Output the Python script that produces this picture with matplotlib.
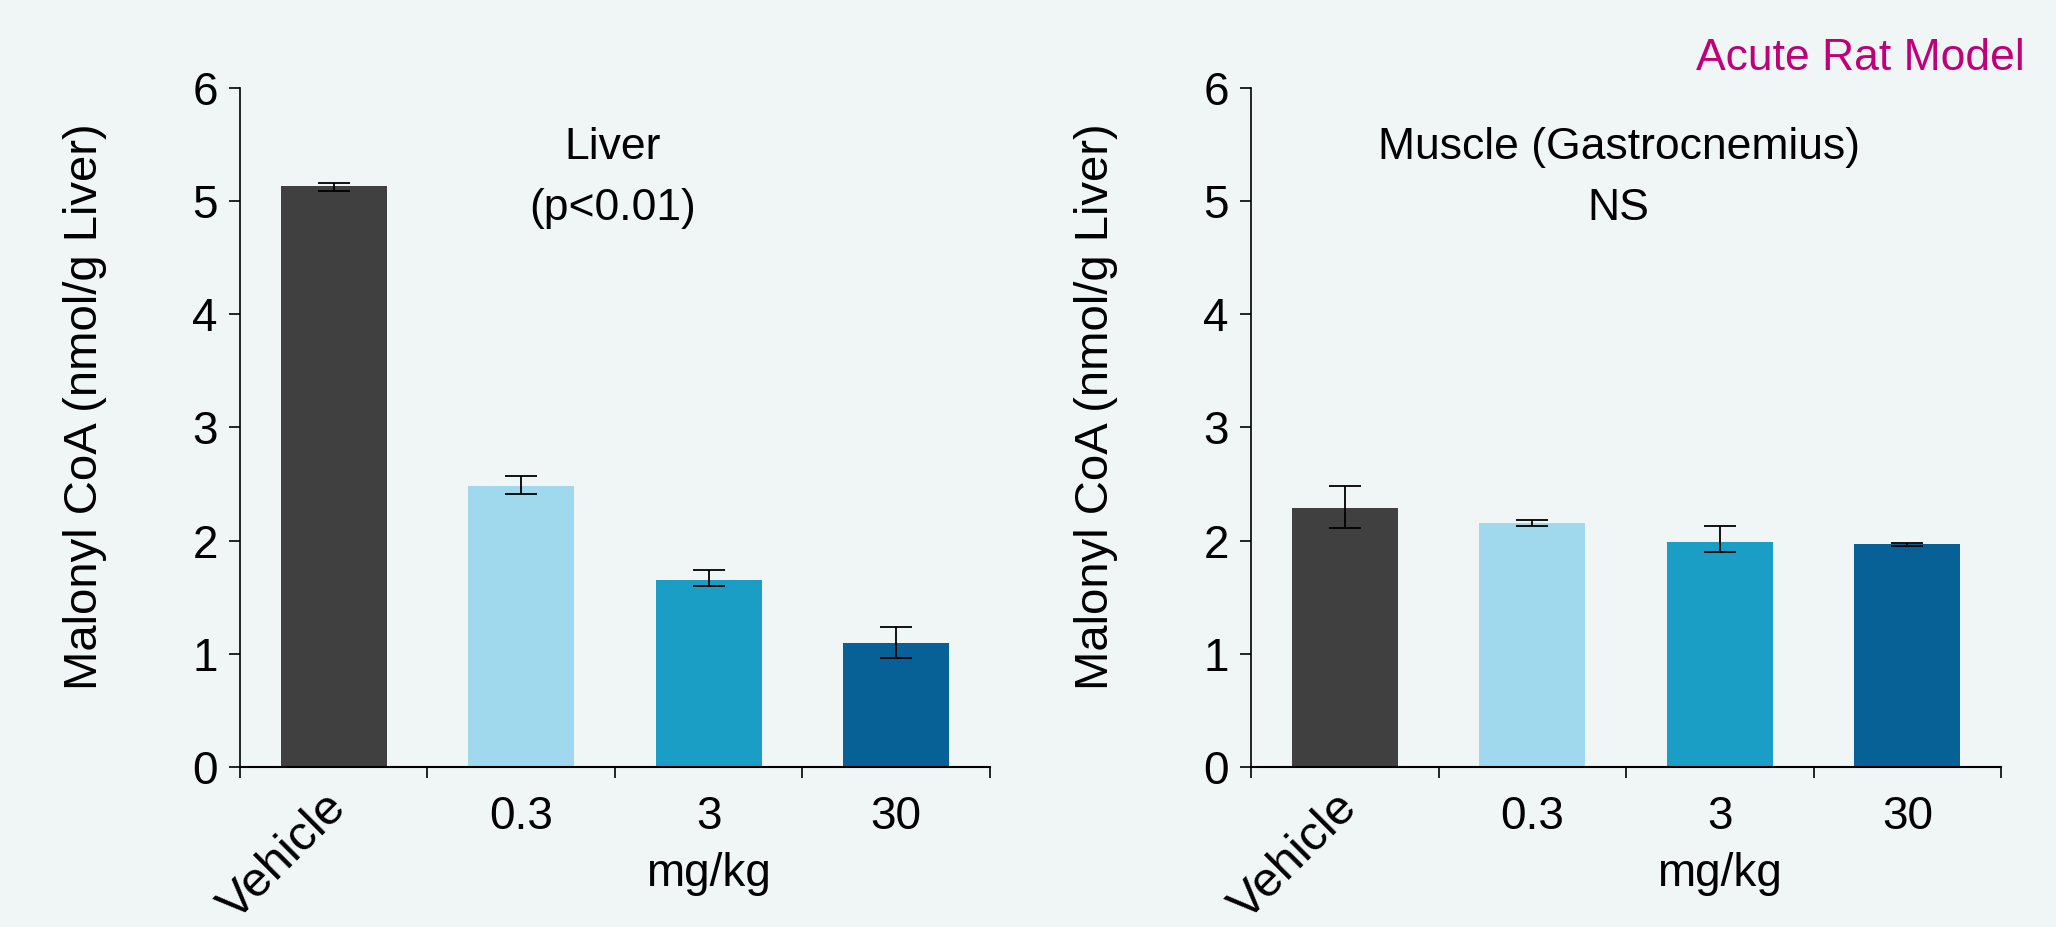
import numpy as np
import matplotlib
matplotlib.use("Agg")
import matplotlib.pyplot as plt
import matplotlib.transforms as mtransforms

plt.rcParams['font.family'] = ['Liberation Sans', 'DejaVu Sans']

# data
groups = ["Vehicle", "0.3", "3", "30"]
bar_colors = ["#404040", "#A0D8EE", "#1A9EC6", "#086196"]

liver_mean = [5.13, 2.48, 1.65, 1.10]
liver_err_lo = [0.04, 0.07, 0.05, 0.14]
liver_err_hi = [0.03, 0.09, 0.09, 0.14]

muscle_mean = [2.29, 2.16, 1.99, 1.97]
muscle_err_lo = [0.18, 0.03, 0.09, 0.02]
muscle_err_hi = [0.19, 0.02, 0.14, 0.01]

bg = "#F0F6F6"
tick_fs = 33
title_fs = 32
ylab_fs = 34

fig = plt.figure(figsize=(20.56, 9.27), dpi=100, facecolor=bg)


def drawPanel(rect, means, lo, hi, title1, title2, title_x):
    ax = fig.add_axes(rect)
    ax.set_facecolor(bg)
    x = np.arange(1, len(groups) + 1)
    ax.bar(x, means, width=0.565, color=bar_colors, zorder=2)
    ax.errorbar(x, means, yerr=[lo, hi], fmt="none", ecolor="black",
                elinewidth=1.3, capsize=11.2, capthick=1.3, zorder=3)
    ax.set_xlim(0.5, len(groups) + 0.5)
    ax.set_ylim(0, 6)
    ax.set_yticks(range(0, 7))
    ax.spines["top"].set_visible(False)
    ax.spines["right"].set_visible(False)
    ax.spines["left"].set_linewidth(1.2)
    ax.spines["bottom"].set_linewidth(1.5)
    ax.tick_params(axis="y", labelsize=tick_fs, length=8, width=1.2, pad=8)
    # category boundaries carry the visible ticks
    ax.set_xticks(np.arange(0.5, len(groups) + 1, 1.0), minor=True)
    ax.tick_params(axis="x", which="minor", length=8, width=1.2)
    ax.set_xticks(x)
    ax.set_xticklabels(groups)
    ax.tick_params(axis="x", which="major", length=0, labelsize=tick_fs, pad=20)
    lab = ax.get_xticklabels()[0]
    lab.set_rotation(45)
    lab.set_ha("right")
    lab.set_fontsize(35.5)
    lab.set_transform(lab.get_transform() +
                      mtransforms.ScaledTranslation(0.22, 0.1, fig.dpi_scale_trans))
    ax.set_xlabel("mg/kg", fontsize=tick_fs)
    ax.xaxis.set_label_coords(0.625, -0.125)
    ax.set_ylabel("Malonyl CoA (nmol/g Liver)", fontsize=ylab_fs)
    ax.yaxis.set_label_coords(-0.177, 0.53)
    ax.text(title_x, 0.895, title1, transform=ax.transAxes, ha="center",
            va="baseline", fontsize=title_fs)
    ax.text(title_x, 0.805, title2, transform=ax.transAxes, ha="center",
            va="baseline", fontsize=title_fs)
    return ax


drawPanel([0.1167, 0.1726, 0.3648, 0.7325], liver_mean, liver_err_lo,
          liver_err_hi, "Liver", "(p<0.01)", 0.497)
drawPanel([0.6085, 0.1726, 0.3648, 0.7325], muscle_mean, muscle_err_lo,
          muscle_err_hi, "Muscle (Gastrocnemius)", "NS", 0.49)

fig.text(0.985, 0.937, "Acute Rat Model", ha="right", va="center",
         fontsize=title_fs, color="#C0007A")

fig.savefig("out.png", dpi=100, facecolor=bg)
